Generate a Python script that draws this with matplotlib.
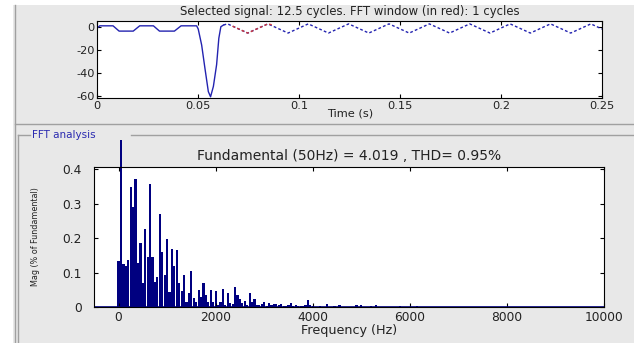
import numpy as np
import matplotlib
matplotlib.use('Agg')
import matplotlib.pyplot as plt
from matplotlib.lines import Line2D
from matplotlib.patches import Rectangle

plt.rcParams['axes.unicode_minus'] = False
plt.rcParams['font.family'] = 'DejaVu Sans'

# signal: sag part (solid) then steady part (dashed)
sag_t = [0, 0.0012, 0.0078, 0.0108, 0.0178, 0.021, 0.0278, 0.0308, 0.0382,
         0.0415, 0.0492, 0.0500, 0.0517, 0.0533, 0.0550, 0.0561, 0.0575,
         0.0591, 0.0602, 0.0612, 0.0625]
sag_v = [-1, 0.8, 0.8, -3.8, -3.8, 0.8, 0.8, -3.8, -3.8,
         0.8, 0.8, -2, -16, -36, -56.5, -61, -52,
         -33, -10, 0, 1.5]

steady_t = [0.0625, 0.0645, 0.0695, 0.0745, 0.0795, 0.0845, 0.0895, 0.0945,
            0.0995, 0.1045, 0.1095, 0.1145, 0.1195, 0.1245, 0.1295, 0.1345,
            0.1395, 0.1445, 0.1495, 0.1545, 0.1595, 0.1645, 0.1695, 0.1745,
            0.1795, 0.1845, 0.1895, 0.1945, 0.1995, 0.2045, 0.2095, 0.2145,
            0.2195, 0.2245, 0.2295, 0.2345, 0.2395, 0.2445, 0.25]
steady_v = [1.5, 2.5, -1.5, -5.5, -1.5, 2.5, -1.5, -5.5,
            -1.5, 2.5, -1.5, -5.5, -1.5, 2.5, -1.5, -5.5,
            -1.5, 2.5, -1.5, -5.5, -1.5, 2.5, -1.5, -5.5,
            -1.5, 2.5, -1.5, -5.5, -1.5, 2.5, -1.5, -5.5,
            -1.5, 2.5, -1.5, -5.5, -1.5, 2.5, -2]

# FFT window (red)
fft_t = [0.067, 0.0695, 0.0745, 0.0795, 0.0845, 0.087]
fft_v = [0.5, -1.5, -5.5, -1.5, 2.5, 1.5]

# spectrum, one bin every 50 Hz (bin 1 = fundamental = 100 %)
df = 50
mag = [0.135, 100, 0.126, 0.121, 0.137, 0.35, 0.29, 0.371, 0.128, 0.186,
       0.07, 0.226, 0.145, 0.356, 0.145, 0.074, 0.089, 0.27, 0.161, 0.094,
       0.197, 0.043, 0.168, 0.121, 0.166, 0.07, 0.048, 0.094, 0.014, 0.041,
       0.106, 0.026, 0.014, 0.05, 0.031, 0.07, 0.036, 0.016, 0.05, 0.014,
       0.048, 0.007, 0.016, 0.052, 0.007, 0.041, 0.012, 0.01, 0.058, 0.036,
       0.023, 0.012, 0.018, 0.008, 0.04, 0.015, 0.023, 0.006, 0.008, 0.01,
       0.016, 0.005, 0.013,
       0.006, 0.01, 0.01, 0.008, 0.01, 0.004, 0.005, 0.006, 0.013, 0.004,
       0.008, 0.003, 0.005, 0.004, 0.006, 0.021, 0.008, 0.004,
       0.002, 0.002, 0.003, 0.002, 0.002, 0.01, 0.002, 0.002, 0.003, 0.002,
       0.006, 0.002, 0.002, 0.002, 0.002, 0.002, 0.002, 0.006, 0.002, 0.006,
       0.002, 0.002, 0.002, 0.005, 0.002, 0.006, 0.002, 0.002, 0.002, 0.002,
       0.002, 0.002, 0.002, 0.002, 0.002, 0.005, 0.002, 0.002, 0.002, 0.002,
       0.002, 0.002, 0.004, 0.002]
freq = np.arange(len(mag)) * df

top_title = 'Selected signal: 12.5 cycles. FFT window (in red): 1 cycles'
bot_title = 'Fundamental (50Hz) = 4.019 , THD= 0.95%'

W, H = 634, 343
fig = plt.figure(figsize=(W / 100, H / 100), dpi=100, facecolor='#e8e8e8')

# white margins and panel frames
fig.add_artist(Rectangle((0, 0), 13 / W, 1, transform=fig.transFigure,
                         facecolor='white', edgecolor='none'))
fig.add_artist(Rectangle((0, 1 - 5 / H), 1, 5 / H, transform=fig.transFigure,
                         facecolor='white', edgecolor='none'))
fig.add_artist(Line2D([15 / W, 15 / W], [0, 1 - 5 / H], transform=fig.transFigure,
                      color='#a0a0a0', lw=1))
fig.add_artist(Line2D([15 / W, 1], [1 - 124 / H, 1 - 124 / H],
                      transform=fig.transFigure, color='#a0a0a0', lw=1))
fig.add_artist(Line2D([18 / W, 30 / W], [1 - 135 / H, 1 - 135 / H],
                      transform=fig.transFigure, color='#a0a0a0', lw=1))
fig.add_artist(Line2D([131 / W, 1], [1 - 135 / H, 1 - 135 / H],
                      transform=fig.transFigure, color='#a0a0a0', lw=1))
fig.add_artist(Line2D([18 / W, 18 / W], [0, 1 - 135 / H],
                      transform=fig.transFigure, color='#a0a0a0', lw=1))
fig.text(32 / W, 1 - 135 / H, 'FFT analysis', fontsize=7.5, color='#2a2ab0',
         va='center', ha='left')

# ---- top: time signal
ax1 = fig.add_axes([97.3 / W, 1 - 98.5 / H, 504.7 / W, 77.5 / H])
ax1.plot(sag_t, sag_v, color='#2323b0', lw=1)
ax1.plot(steady_t, steady_v, color='#2323b0', lw=1, dashes=(2, 1.6))
ax1.plot(fft_t, fft_v, color='#d03838', lw=1, dashes=(2, 1.6))
ax1.set_xlim(0, 0.25)
ax1.set_ylim(-62.5, 5)
ax1.set_xticks([0, 0.05, 0.1, 0.15, 0.2, 0.25])
ax1.set_xticklabels(['0', '0.05', '0.1', '0.15', '0.2', '0.25'])
ax1.set_yticks([-60, -40, -20, 0])
ax1.set_title(top_title, fontsize=8.4, pad=4, color='#222222')
ax1.set_xlabel('Time (s)', fontsize=8.2, labelpad=-2, color='#222222')

# ---- bottom: spectrum
ax2 = fig.add_axes([94.3 / W, 1 - 307.3 / H, 509.7 / W, 140.6 / H])
bars = ax2.bar(freq, mag, width=0.9 * df, color='#000080', edgecolor='none')
clip = Rectangle((0, 0), 1, 1.19, transform=ax2.transAxes, facecolor='none')
bars[1].set_clip_path(clip)
ax2.axhline(0, color='#000080', lw=1.2)
ax2.set_xlim(-500, 10000)
ax2.set_ylim(0, 0.4075)
ax2.set_xticks([0, 2000, 4000, 6000, 8000, 10000])
ax2.set_yticks([0, 0.1, 0.2, 0.3, 0.4])
ax2.set_yticklabels(['0', '0.1', '0.2', '0.3', '0.4'])
ax2.set_title(bot_title, fontsize=10, pad=5, color='#222222')
ax2.set_xlabel('Frequency (Hz)', fontsize=9.2, labelpad=0, color='#222222')
ax2.set_ylabel('Mag (% of Fundamental)', fontsize=5.8, color='#222222')
ax2.yaxis.set_label_coords(-0.106, 0.5)

for ax in (ax1, ax2):
    ax.set_facecolor('white')
    ax.tick_params(direction='in', top=True, right=True, length=3,
                   width=0.8, labelsize=8.2, pad=2, labelcolor='#222222')
    for s in ax.spines.values():
        s.set_linewidth(0.8)
ax2.tick_params(labelsize=8.8)
ax2.tick_params(axis='y', pad=9)
ax2.tick_params(axis='x', pad=3)

fig.savefig('out.png', dpi=100, facecolor=fig.get_facecolor())
